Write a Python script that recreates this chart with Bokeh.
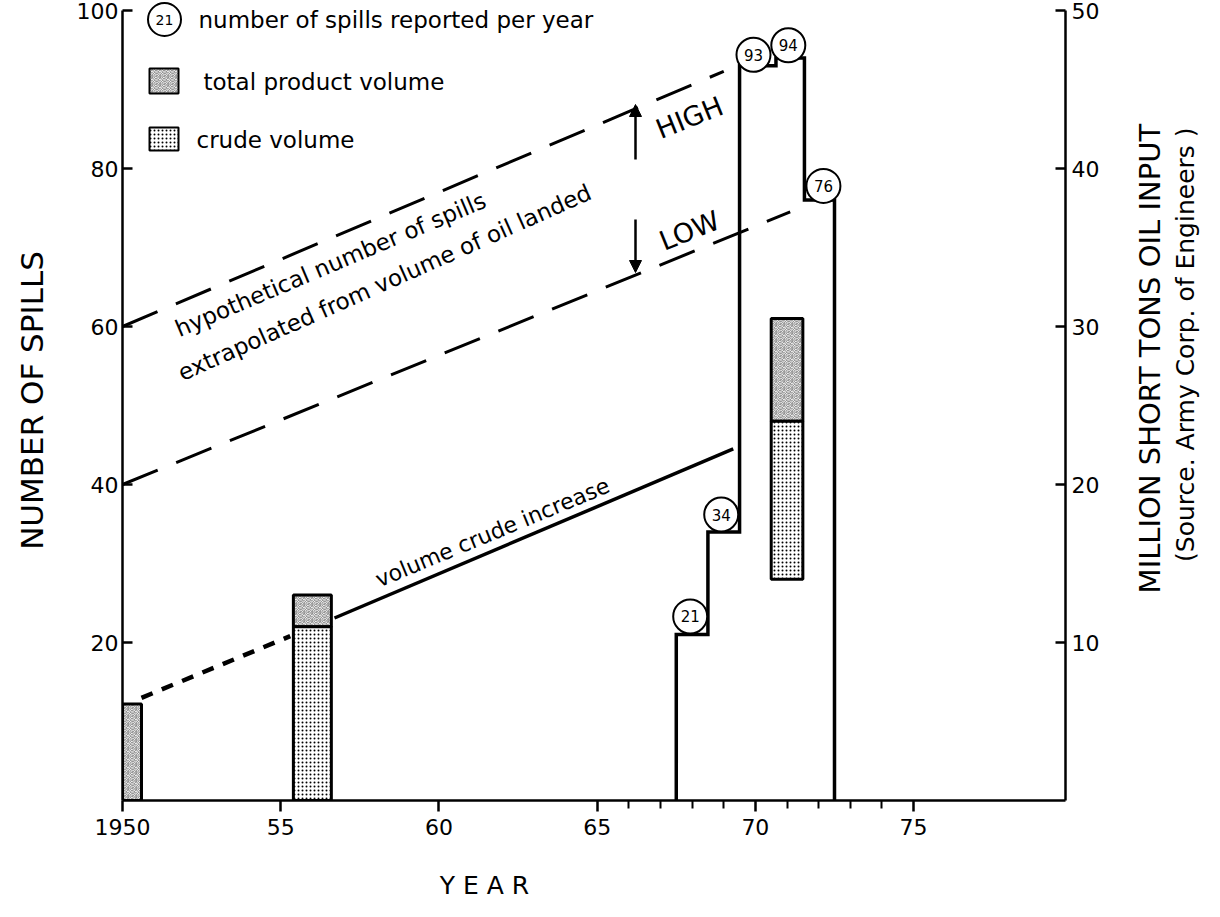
import math
from bokeh.plotting import figure
from bokeh.layouts import row, column
from bokeh.models import Range1d, LinearAxis, FixedTicker, Label, Arrow, NormalHead
from bokeh.embed import file_html
from bokeh.resources import INLINE
from bokeh.core.properties import value

# ---------------- data ----------------
spill_years = [1968, 1969, 1970, 1971, 1972]
spill_counts = [21, 34, 93, 94, 76]
spill_edges = [1967.5, 1968.5, 1969.5, 1970.65, 1971.55, 1972.5]

vol_years = [1950, 1956, 1971]
vol_widths = [1.2, 1.2, 1.0]
vol_base = [0, 0, 14]
crude_top = [0, 11, 24]
total_top = [6.1, 13, 30.5]

high_x = [1950, 1969.0]
high_y = [60, 92.3]
low_x = [1950, 1971.1]
low_y = [40, 74.5]
crude_ext_x = [1950.6, 1955.3]
crude_ext_y = [13, 20.8]
crude_inc_x = [1956.7, 1969.3]
crude_inc_y = [23.1, 44.5]

x_ticks = [1950, 1955, 1960, 1965, 1970, 1975]
x_tick_labels = ["1950", "55", "60", "65", "70", "75"]
x_minor_ticks = [1966, 1967, 1968, 1969, 1971, 1972, 1973, 1974]
y_ticks = [20, 40, 60, 80, 100]
y2_ticks = [10, 20, 30, 40, 50]

# ---------------- layout helpers ----------------
FONT = "DejaVu Sans"
X0, X1 = 1950, 1979.8
FL, FR, FT, FB = 130, 1073, 18, 808  # page px of year 1950 / right axis / value 100 / value 0
TOP_PX = 8
MAIN_W, MAIN_H = 1110, 860
YTOP = 100 * (FB - TOP_PX) / (FB - FT)
PROD_STYLE = dict(fill_color="#f0f0f0", hatch_pattern="spiral", hatch_scale=8, hatch_color="#1a1a1a",
                  hatch_alpha=0.55, hatch_weight=1)
CRUDE_STYLE = dict(fill_color="white", hatch_pattern="dot", hatch_scale=4, hatch_color="black",
                   hatch_weight=1.5)


def px2x(px):
    return X0 + (px - FL) / (FR - FL) * (X1 - X0)


def py2y(py):
    return (FB - py) / (FB - FT) * 100


p = figure(width=MAIN_W, height=MAIN_H, x_range=Range1d(X0, X1), y_range=Range1d(0, YTOP),
           output_backend="svg", toolbar_location=None,
           min_border_left=FL - 8, min_border_right=MAIN_W + 8 - FR,
           min_border_top=TOP_PX - 8, min_border_bottom=MAIN_H + 8 - FB)
p.extra_y_ranges = {"vol": Range1d(0, YTOP / 2)}
p.grid.visible = False
p.outline_line_color = None
p.background_fill_color = "white"
p.border_fill_color = "white"

ax_b = p.xaxis[0]
ax_l = p.yaxis[0]
ax_b.ticker = FixedTicker(ticks=x_ticks, minor_ticks=x_minor_ticks)
ax_b.major_label_overrides = {t: l for t, l in zip(x_ticks, x_tick_labels)}
ax_l.ticker = FixedTicker(ticks=y_ticks)
ax_l.bounds = (0, 100)
ax_r = LinearAxis(y_range_name="vol", ticker=FixedTicker(ticks=y2_ticks), bounds=(0, 50))
p.add_layout(ax_r, "right")

for ax in [ax_b, ax_l, ax_r]:
    ax.axis_line_width = 2.5
    ax.axis_line_color = "black"
    ax.major_tick_line_width = 2.5
    ax.major_tick_line_color = "black"
    ax.major_label_text_font = FONT
    ax.major_label_text_font_size = "22px"
    ax.major_label_text_color = "black"

ax_b.major_tick_in = 0
ax_b.major_tick_out = 11
ax_b.minor_tick_in = 0
ax_b.minor_tick_out = 8
ax_b.minor_tick_line_width = 2
ax_b.minor_tick_line_color = "black"
ax_b.major_label_standoff = 7

ax_l.major_tick_in = 10
ax_l.major_tick_out = 0
ax_l.minor_tick_line_color = None
ax_l.major_label_standoff = 4
ax_l.axis_label = "NUMBER OF SPILLS"
ax_l.axis_label_text_font = FONT
ax_l.axis_label_text_font_size = "31px"
ax_l.axis_label_text_font_style = "normal"
ax_l.axis_label_text_color = "black"
ax_l.axis_label_standoff = 24

ax_r.major_tick_in = 10
ax_r.major_tick_out = 0
ax_r.minor_tick_line_color = None
ax_r.major_label_standoff = 6

# ---------------- volume bars ----------------
prod_bottom = [max(b, c) for b, c in zip(vol_base, crude_top)]
p.vbar(x=vol_years, width=vol_widths, bottom=prod_bottom, top=total_top, y_range_name="vol",
       line_color="black", line_width=3, **PROD_STYLE)
p.vbar(x=vol_years, width=vol_widths, bottom=vol_base, top=crude_top, y_range_name="vol",
       line_color="black", line_width=3, **CRUDE_STYLE)

# ---------------- spills step line ----------------
sx, sy = [spill_edges[0]], [0]
for i, c in enumerate(spill_counts):
    sx += [spill_edges[i], spill_edges[i + 1]]
    sy += [c, c]
sx.append(spill_edges[-1])
sy.append(0)
p.line(sx, sy, line_width=3.5, line_color="black", line_join="miter")

# ---------------- trend lines ----------------
p.line(high_x, high_y, line_width=3, line_color="black", line_dash="38 20")
p.line(low_x, low_y, line_width=3, line_color="black", line_dash="38 20")
p.line(crude_ext_x, crude_ext_y, line_width=4.5, line_color="black", line_dash="12 10")
p.line(crude_inc_x, crude_inc_y, line_width=3.5, line_color="black")

# ---------------- count circles ----------------
lab_dx = [-0.06, -0.08, -0.06, 0.04, 0.15]
lab_dy = [2.3, 2.2, 1.4, 1.6, 1.8]
cx = [y + d for y, d in zip(spill_years, lab_dx)]
cy = [c + d for c, d in zip(spill_counts, lab_dy)]
p.scatter(x=cx, y=cy, marker="circle", size=34, fill_color="white", line_color="black", line_width=2)
p.text(x=cx, y=cy, text=[str(c) for c in spill_counts], text_align="center", text_baseline="middle",
       text_font=value(FONT), text_font_size="15px", text_color="black")


def lab(px, py, text, size="19px", angle=0.0, align="center", style="normal", fig=None):
    if fig is None:
        fig, x, y = p, px2x(px), py2y(py)
    else:
        x, y = px, py
    fig.add_layout(Label(x=x, y=y, text=text, angle=math.radians(angle),
                         text_align=align, text_baseline="middle", text_font=FONT,
                         text_font_size=size, text_color="black", text_font_style=style))


# ---------------- legend ----------------
p.scatter(x=[px2x(172)], y=[py2y(27)], marker="circle", size=33, fill_color="white",
          line_color="black", line_width=2)
p.text(x=[px2x(172)], y=[py2y(27)], text=["21"], text_align="center", text_baseline="middle",
       text_font=value(FONT), text_font_size="14px")
p.quad(left=[px2x(157)], right=[px2x(186)], top=[py2y(76)], bottom=[py2y(101)],
       line_color="black", line_width=2, **PROD_STYLE)
p.quad(left=[px2x(157)], right=[px2x(186)], top=[py2y(135)], bottom=[py2y(158)],
       line_color="black", line_width=2, **CRUDE_STYLE)
lab(206, 27, "number of spills reported per year", size="23px", align="left")
lab(211, 89, "total product volume", size="23px", align="left")
lab(204, 147, "crude volume", size="23px", align="left")

# ---------------- annotations ----------------
lab(338, 272, "hypothetical number of spills", size="23px", angle=23)
lab(392, 290, "extrapolated from volume of oil landed", size="23px", angle=24)
lab(500, 540, "volume crude increase", size="22px", angle=22.5)
lab(697, 125, "HIGH", size="27px", angle=22)
lab(697, 238, "LOW", size="27px", angle=22)
p.add_layout(Arrow(x_start=px2x(643), y_start=py2y(167), x_end=px2x(643), y_end=py2y(112),
                   line_width=2.5, end=NormalHead(size=12, fill_color="black", line_color="black")))
p.add_layout(Arrow(x_start=px2x(643), y_start=py2y(227), x_end=px2x(643), y_end=py2y(280),
                   line_width=2.5, end=NormalHead(size=12, fill_color="black", line_color="black")))

# ---------------- right-hand titles (separate panel, page coordinates) ----------------
RX0 = 8 + MAIN_W
p_right = figure(width=1212 - RX0, height=MAIN_H, x_range=Range1d(RX0, 1212),
                 y_range=Range1d(8 + MAIN_H, 8), x_axis_type=None, y_axis_type=None,
                 output_backend="svg", toolbar_location=None, min_border=0)
p_right.grid.visible = False
p_right.outline_line_color = None
lab(1157, 393, "MILLION SHORT TONS OIL INPUT", size="29px", angle=90, fig=p_right)
lab(1193, 378, "(Source. Army Corp. of Engineers )", size="25px", angle=90, fig=p_right)

# ---------------- bottom title (separate panel, page coordinates) ----------------
BY0 = 8 + MAIN_H
p_bottom = figure(width=1204, height=908 - BY0, x_range=Range1d(8, 1212), y_range=Range1d(908, BY0),
                  x_axis_type=None, y_axis_type=None, output_backend="svg",
                  toolbar_location=None, min_border=0)
p_bottom.grid.visible = False
p_bottom.outline_line_color = None
lab(492, 893, "Y E A R", size="25px", fig=p_bottom)

layout = column(row(p, p_right), p_bottom)
open("out.html", "w").write(file_html(layout, INLINE))
